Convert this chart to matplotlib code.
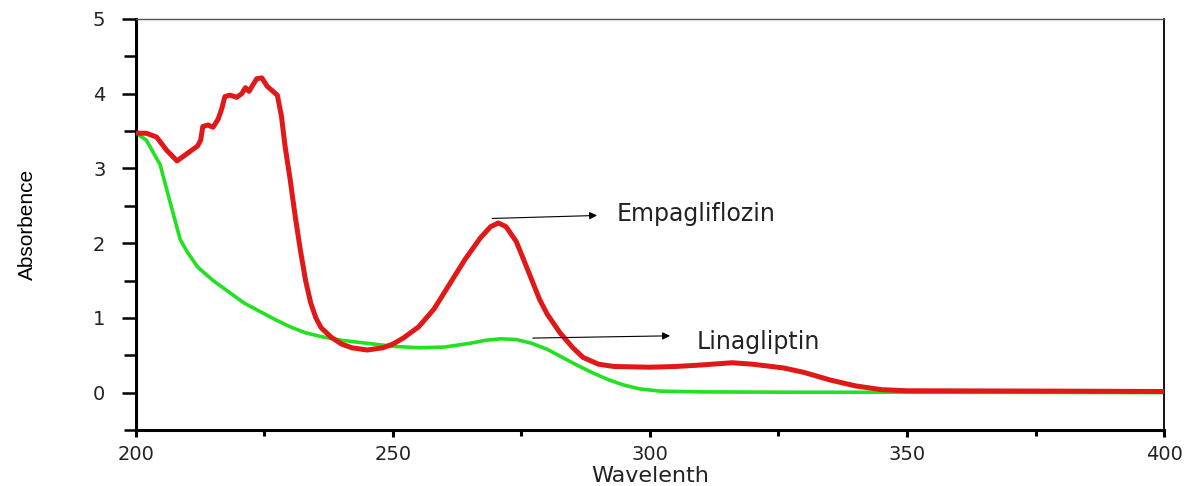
import matplotlib
matplotlib.use('Agg')
import matplotlib.pyplot as plt
from matplotlib.ticker import MultipleLocator

# Empagliflozin (red) spectrum
empa_wl = [200, 202, 204, 205, 206, 207, 208, 209, 210, 211, 212, 212.6, 213, 214, 215,
           216, 216.7, 217.3, 218.3, 219.6, 220.6, 221.3, 222, 222.6, 223.5, 224.5, 225.5,
           226.5, 227.5, 228.3, 229, 230, 231, 232, 233, 234, 235, 236, 238, 240, 242, 245,
           248, 250, 252, 255, 258, 261, 264, 267, 269, 270.5, 272, 274, 276, 278.5, 280,
           282.5, 285, 287, 290, 293, 300, 305, 310, 316, 320, 326, 330, 335, 340, 345, 350,
           380, 400]
empa_abs = [3.47, 3.47, 3.42, 3.33, 3.24, 3.17, 3.10, 3.15, 3.20, 3.25, 3.30, 3.38, 3.56, 3.58, 3.55,
            3.66, 3.80, 3.96, 3.98, 3.95, 4.00, 4.08, 4.03, 4.10, 4.20, 4.21, 4.10,
            4.04, 3.98, 3.70, 3.30, 2.85, 2.35, 1.90, 1.50, 1.20, 1.00, 0.87, 0.74, 0.65, 0.60, 0.57,
            0.60, 0.65, 0.73, 0.88, 1.12, 1.45, 1.78, 2.07, 2.22, 2.27, 2.22, 2.02, 1.68, 1.25, 1.05,
            0.80, 0.60, 0.47, 0.38, 0.35, 0.34, 0.35, 0.37, 0.40, 0.38, 0.33, 0.27, 0.17, 0.09, 0.04, 0.025,
            0.02, 0.015]

# Linagliptin (green) spectrum
lina_wl = [200, 202, 204.7, 206.6, 208.6, 210, 212, 215, 218, 221, 224, 227, 230, 233, 236,
           240, 245, 250, 255, 260, 265, 268, 271, 274, 277, 280, 283, 286, 289, 292, 295,
           298, 302, 310, 330, 360, 400]
lina_abs = [3.47, 3.38, 3.05, 2.56, 2.05, 1.88, 1.68, 1.50, 1.35, 1.20, 1.09, 0.98, 0.88, 0.80, 0.75,
            0.70, 0.66, 0.62, 0.60, 0.61, 0.66, 0.70, 0.72, 0.71, 0.66, 0.58, 0.47, 0.36, 0.26, 0.17, 0.10,
            0.05, 0.02, 0.01, 0.005, 0.005, 0.0]

x_ticks = [200, 250, 300, 350, 400]
y_ticks = [0, 1, 2, 3, 4, 5]

fig = plt.figure(figsize=(12.01, 4.86), dpi=100)
ax = fig.add_axes([0.1132, 0.1152, 0.856, 0.846])

ax.plot(lina_wl, lina_abs, color='#22e022', lw=2.6, solid_joinstyle='round', zorder=2)
ax.plot(empa_wl, empa_abs, color='#e01818', lw=3.6, solid_joinstyle='round', zorder=3)

ax.set_xlim(200, 400)
ax.set_ylim(-0.5, 5)
ax.set_xticks(x_ticks)
ax.set_yticks(y_ticks)
ax.xaxis.set_minor_locator(MultipleLocator(25))
ax.yaxis.set_minor_locator(MultipleLocator(0.5))

ax.tick_params(axis='y', which='major', direction='out', length=10, width=1.8, pad=12,
               labelsize=14, labelcolor='#222222')
ax.tick_params(axis='y', which='minor', direction='out', length=9, width=1.8)
ax.tick_params(axis='x', which='major', direction='out', length=5, width=2.2, pad=6,
               labelsize=14, labelcolor='#222222')
ax.tick_params(axis='x', which='minor', direction='out', length=4, width=2.2)

for lbl in ax.get_xticklabels() + ax.get_yticklabels():
    lbl.set_family('DejaVu Sans')

ax.spines['left'].set_linewidth(2.2)
ax.spines['bottom'].set_linewidth(2.2)
ax.spines['top'].set_linewidth(1.0)
ax.spines['top'].set_color('#555555')
ax.spines['right'].set_linewidth(1.3)

ax.set_xlabel('Wavelenth', fontsize=16, family='DejaVu Sans', labelpad=1, color='#222222')
ax.set_ylabel('Absorbence', fontsize=15, family='Liberation Sans', labelpad=40)

arrow = dict(arrowstyle='-|>', color='black', lw=0.8, mutation_scale=11, shrinkA=0, shrinkB=0)
ax.annotate('', xy=(289.7, 2.37), xytext=(269.3, 2.33), arrowprops=arrow)
ax.text(293.6, 2.39, 'Empagliflozin', fontsize=17, family='DejaVu Sans', va='center', ha='left',
        color='#222222')
ax.annotate('', xy=(303.9, 0.76), xytext=(277.2, 0.73), arrowprops=arrow)
ax.text(309.1, 0.68, 'Linagliptin', fontsize=17, family='DejaVu Sans', va='center', ha='left',
        color='#222222')

fig.savefig('out.png', dpi=100)
plt.close(fig)
